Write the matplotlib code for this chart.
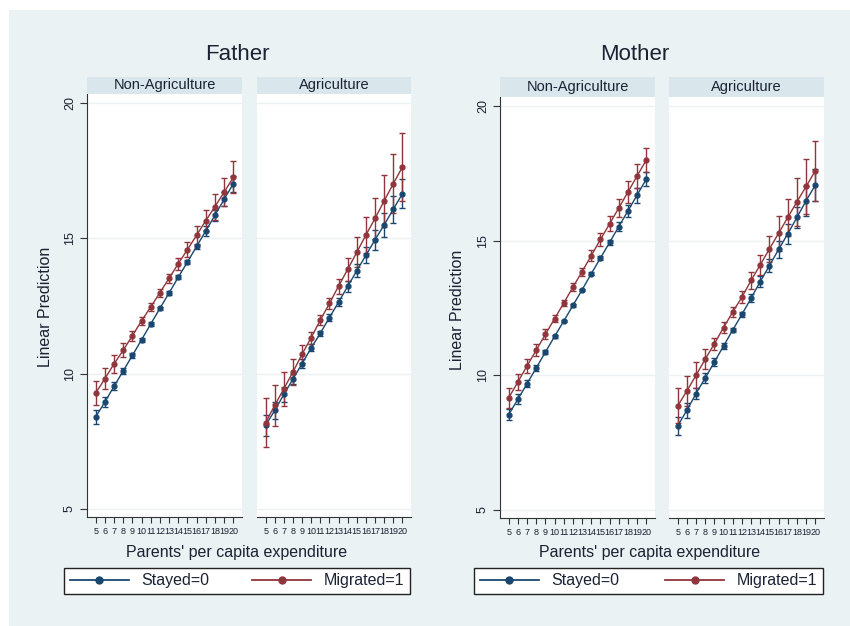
import matplotlib
matplotlib.use("Agg")
import matplotlib.pyplot as plt
from matplotlib.patches import Rectangle
from matplotlib.lines import Line2D

plt.rcParams['font.family'] = ['Liberation Sans', 'DejaVu Sans']

# expenditure levels on the x axis
x = list(range(5, 21))

# Father, non-agriculture
f_nonag_stay = [8.40, 8.95, 9.53, 10.10, 10.67, 11.25, 11.83, 12.41, 12.98, 13.56, 14.12, 14.70, 15.27, 15.85, 16.44, 17.01]
f_nonag_stay_ci = [0.25, 0.20, 0.15, 0.10, 0.08, 0.07, 0.06, 0.06, 0.06, 0.07, 0.08, 0.10, 0.17, 0.20, 0.26, 0.30]
f_nonag_mig = [9.28, 9.81, 10.36, 10.86, 11.40, 11.95, 12.46, 12.99, 13.52, 14.06, 14.58, 15.11, 15.65, 16.17, 16.70, 17.25]
f_nonag_mig_ci = [0.44, 0.39, 0.33, 0.26, 0.19, 0.14, 0.14, 0.15, 0.17, 0.22, 0.28, 0.35, 0.40, 0.48, 0.52, 0.59]

# Father, agriculture
f_ag_stay = [8.09, 8.64, 9.23, 9.80, 10.37, 10.95, 11.49, 12.07, 12.64, 13.22, 13.80, 14.37, 14.94, 15.49, 16.07, 16.64]
f_ag_stay_ci = [0.38, 0.31, 0.29, 0.20, 0.15, 0.13, 0.10, 0.12, 0.14, 0.20, 0.23, 0.30, 0.36, 0.43, 0.50, 0.54]
f_ag_mig = [8.19, 8.83, 9.44, 10.06, 10.72, 11.33, 11.98, 12.59, 13.23, 13.85, 14.48, 15.12, 15.73, 16.38, 17.01, 17.63]
f_ag_mig_ci = [0.90, 0.76, 0.63, 0.48, 0.33, 0.22, 0.17, 0.20, 0.28, 0.43, 0.56, 0.68, 0.77, 0.96, 1.09, 1.25]

# Mother, non-agriculture
m_nonag_stay = [8.54, 9.11, 9.69, 10.27, 10.86, 11.44, 12.01, 12.59, 13.17, 13.77, 14.35, 14.93, 15.52, 16.10, 16.69, 17.28]
m_nonag_stay_ci = [0.22, 0.18, 0.14, 0.10, 0.08, 0.06, 0.05, 0.05, 0.05, 0.06, 0.08, 0.10, 0.17, 0.22, 0.28, 0.27]
m_nonag_mig = [9.16, 9.75, 10.35, 10.93, 11.52, 12.10, 12.68, 13.27, 13.85, 14.44, 15.04, 15.62, 16.21, 16.80, 17.40, 17.99]
m_nonag_mig_ci = [0.37, 0.30, 0.25, 0.23, 0.18, 0.12, 0.10, 0.14, 0.15, 0.20, 0.23, 0.28, 0.34, 0.42, 0.46, 0.46]

# Mother, agriculture
m_ag_stay = [8.12, 8.70, 9.32, 9.90, 10.49, 11.09, 11.68, 12.26, 12.86, 13.48, 14.07, 14.67, 15.25, 15.86, 16.48, 17.06]
m_ag_stay_ci = [0.33, 0.28, 0.22, 0.18, 0.14, 0.10, 0.08, 0.10, 0.14, 0.20, 0.25, 0.30, 0.37, 0.40, 0.55, 0.59]
m_ag_mig = [8.86, 9.42, 10.00, 10.60, 11.17, 11.77, 12.35, 12.90, 13.52, 14.10, 14.69, 15.27, 15.86, 16.44, 17.01, 17.59]
m_ag_mig_ci = [0.65, 0.56, 0.48, 0.37, 0.23, 0.20, 0.17, 0.22, 0.31, 0.37, 0.49, 0.66, 0.70, 0.90, 1.01, 1.12]

yticks = [5, 10, 15, 20]
BLUE = "#1a476f"
RED = "#90353b"
BG = "#eaf2f3"
STRIP = "#d9e6eb"
TXT = "#1a2233"

W, H = 850, 626
fig = plt.figure(figsize=(W / 100, H / 100), dpi=100)
fig.patch.set_facecolor("white")
fig.patches.append(Rectangle((9 / W, 0), 1, 1 - 10 / H, transform=fig.transFigure,
                             facecolor=BG, edgecolor="none", zorder=-10))


def px_axes(left, top, right, bottom):
    return fig.add_axes([left / W, 1 - bottom / H, (right - left) / W, (bottom - top) / H])


def panel(left, right, top, bottom, strip_top, label, stay, stay_ci, mig, mig_ci, show_y):
    ax = px_axes(left, top, right, bottom)
    ax.set_facecolor("white")
    for ys in yticks:
        ax.axhline(ys, color=BG, lw=1, zorder=0)
    ax.errorbar(x, stay, yerr=stay_ci, color=BLUE, lw=1, marker="o", ms=3.5,
                capsize=2.5, elinewidth=1, capthick=1)
    ax.errorbar(x, mig, yerr=mig_ci, color=RED, lw=1, marker="o", ms=3.5,
                capsize=2.5, elinewidth=1, capthick=1)
    ax.set_xlim(4.05, 20.95)
    ax.set_ylim(4.7, 20.33)
    ax.set_xticks(x)
    ax.set_xticklabels([str(v) for v in x], fontsize=6.5, color=TXT)
    ax.tick_params(axis="x", length=4, width=0.8, pad=3, color="#333333")
    ax.spines["top"].set_visible(False)
    ax.spines["right"].set_visible(False)
    ax.spines["bottom"].set_color("#333333")
    if show_y:
        ax.set_yticks(yticks)
        ax.set_yticklabels([str(v) for v in yticks], fontsize=9, rotation=90, va="center", color=TXT)
        ax.tick_params(axis="y", length=5, width=0.8, pad=3, color="#333333")
        ax.spines["left"].set_color("#333333")
    else:
        ax.set_yticks([])
        ax.spines["left"].set_visible(False)
    # strip header
    sax = px_axes(left, strip_top, right, top)
    sax.set_facecolor(STRIP)
    sax.set_xticks([])
    sax.set_yticks([])
    for s in sax.spines.values():
        s.set_visible(False)
    sax.text(0.5, 0.5, label, ha="center", va="center", fontsize=10.5, color=TXT,
             transform=sax.transAxes)


# Father panels
panel(87, 242, 94, 517, 77, "Non-Agriculture", f_nonag_stay, f_nonag_stay_ci, f_nonag_mig, f_nonag_mig_ci, True)
panel(257, 411, 94, 517, 77, "Agriculture", f_ag_stay, f_ag_stay_ci, f_ag_mig, f_ag_mig_ci, False)
# Mother panels
panel(500, 655, 97, 518, 77, "Non-Agriculture", m_nonag_stay, m_nonag_stay_ci, m_nonag_mig, m_nonag_mig_ci, True)
panel(669, 824, 97, 518, 77, "Agriculture", m_ag_stay, m_ag_stay_ci, m_ag_mig, m_ag_mig_ci, False)

# titles and axis labels
fig.text(237 / W, 1 - 54 / H, "Father", ha="center", va="center", fontsize=16, color=TXT)
fig.text(635 / W, 1 - 54 / H, "Mother", ha="center", va="center", fontsize=16, color=TXT)
fig.text(46 / W, 1 - 307 / H, "Linear Prediction", rotation=90, ha="center", va="center", fontsize=11.5, color=TXT)
fig.text(458 / W, 1 - 310 / H, "Linear Prediction", rotation=90, ha="center", va="center", fontsize=11.5, color=TXT)
fig.text(237 / W, 1 - 552 / H, "Parents' per capita expenditure", ha="center", va="center", fontsize=11.5, color=TXT)
fig.text(650 / W, 1 - 552 / H, "Parents' per capita expenditure", ha="center", va="center", fontsize=11.5, color=TXT)

# legends
handles = [Line2D([], [], color=BLUE, lw=1.3, marker="o", ms=5),
           Line2D([], [], color=RED, lw=1.3, marker="o", ms=5)]
labels = ["Stayed=0", "Migrated=1"]
for lft, rgt in [(64, 410), (474, 823)]:
    lax = px_axes(lft, 566, rgt, 596)
    lax.axis("off")
    leg = lax.legend(handles, labels, ncol=2, loc="center", mode="expand",
                     bbox_to_anchor=(0, 0, 1, 1), borderaxespad=0, fontsize=11.5,
                     handlelength=3.7, handletextpad=0.8, fancybox=False,
                     edgecolor="#222222", framealpha=1, borderpad=0.35)
    leg.get_frame().set_linewidth(1)
    for t in leg.get_texts():
        t.set_color(TXT)

fig.savefig("out.png", dpi=100, facecolor=fig.get_facecolor())
